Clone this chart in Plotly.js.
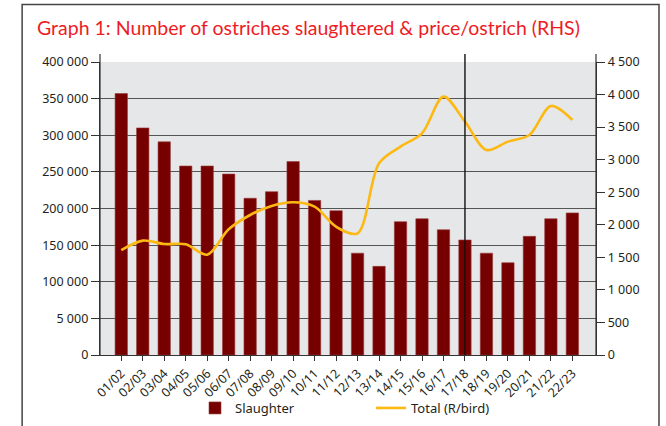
<!DOCTYPE html>
<html>
<head>
<meta charset="utf-8">
<script src="https://cdn.plot.ly/plotly-3.0.1.min.js"></script>
<style>html,body{margin:0;padding:0;background:#fff;}#chart{width:666px;height:426px;}</style>
</head>
<body>
<div id="chart"></div>
<script>
const seasons = ["01/02","02/03","03/04","04/05","05/06","06/07","07/08","08/09","09/10","10/11","11/12","12/13","13/14","14/15","15/16","16/17","17/18","18/19","19/20","20/21","21/22","22/23"];
const slaughter = [357000,310000,291000,258000,258000,247000,214000,223000,264000,211000,197000,139000,121000,182000,186000,171000,157000,139000,126000,162000,186000,194000];
const pricePerBird = [1610,1756,1705,1700,1540,1930,2150,2289,2345,2278,1971,1869,2944,3200,3405,3968,3584,3149,3277,3379,3825,3610];
const leftTickVals = [0,50000,100000,150000,200000,250000,300000,350000,400000];
const leftTickText = ["0","5 000","100 000","150 000","200 000","250 000","300 000","350 000","400 000"];
const rightTickVals = [0,500,1000,1500,2000,2500,3000,3500,4000,4500];
const rightTickText = ["0","500","1 000","1 500","2 000","2 500","3 000","3 500","4 000","4 500"];
const markerIndex = 16;

const tickFont = {family: "Noto Sans, Open Sans, sans-serif", size: 12.5, color: "#231f20"};

const traces = [
  {
    type: "bar", name: "Slaughter", x: seasons, y: slaughter,
    marker: {color: "#760000", line: {color: "#9a3a3a", width: 0.6}},
    width: 0.575, yaxis: "y"
  },
  {
    type: "scatter", mode: "lines", name: "Total (R/bird)", x: seasons, y: pricePerBird,
    line: {color: "#fdb913", width: 2.6, shape: "spline", smoothing: 0.9},
    yaxis: "y2"
  }
];

const layout = {
  width: 666, height: 426,
  margin: {l: 100, r: 70, t: 62, b: 71},
  paper_bgcolor: "#ffffff",
  plot_bgcolor: "#e6e7e8",
  showlegend: true,
  title: {
    text: "Graph 1: Number of ostriches slaughtered & price/ostrich (RHS)",
    font: {family: "Lato, sans-serif", size: 19.5, color: "#ed1c24"},
    xref: "container", x: 37/666, xanchor: "left",
    yref: "container", y: 1 - 28/426, yanchor: "middle"
  },
  xaxis: {
    type: "category", range: [-0.99, 22.1],
    tickangle: -45, ticks: "outside", ticklen: 5, tickcolor: "#333",
    tickfont: tickFont, showgrid: false, showline: true, linecolor: "#333", linewidth: 1.2,
    zeroline: false, automargin: false
  },
  yaxis: {
    range: [0, 400000], tickvals: leftTickVals, ticktext: leftTickText,
    ticks: "outside", ticklen: 8, tickcolor: "#333", tickfont: tickFont,
    showgrid: true, gridcolor: "#555", gridwidth: 1.1,
    showline: true, linecolor: "#333", linewidth: 1.2, zeroline: false, automargin: false
  },
  yaxis2: {
    range: [0, 4500], tickvals: rightTickVals, ticktext: rightTickText,
    overlaying: "y", side: "right",
    ticks: "outside", ticklen: 8, tickcolor: "#333", tickfont: tickFont,
    showgrid: false, showline: true, linecolor: "#333", linewidth: 1.2, zeroline: false, automargin: false
  },
  legend: {
    orientation: "h", xref: "container", x: 195/666, xanchor: "left",
    yref: "container", y: 1 - 408/426, yanchor: "middle",
    font: {family: "Noto Sans, Open Sans, sans-serif", size: 13, color: "#231f20"},
    bgcolor: "rgba(0,0,0,0)", entrywidth: 131, itemwidth: 30, traceorder: "normal"
  },
  shapes: [
    {type: "line", xref: "x", yref: "paper", x0: markerIndex, x1: markerIndex, y0: 0, y1: 1.027, line: {color: "#111", width: 1.4}},
    {type: "line", xref: "paper", yref: "paper", x0: 0, x1: 0, y0: 0, y1: 1.027, line: {color: "#333", width: 1.2}},
    {type: "line", xref: "paper", yref: "paper", x0: 1, x1: 1, y0: 0, y1: 1.027, line: {color: "#333", width: 1.2}},
    {type: "rect", xref: "paper", yref: "paper", x0: -0.157, x1: 1.127, y0: -0.3, y1: 1.196, line: {color: "#444", width: 1.5}, fillcolor: "rgba(0,0,0,0)", layer: "below"}
  ]
};

Plotly.newPlot("chart", traces, layout, {displayModeBar: false, staticPlot: true});
</script>
</body>
</html>
